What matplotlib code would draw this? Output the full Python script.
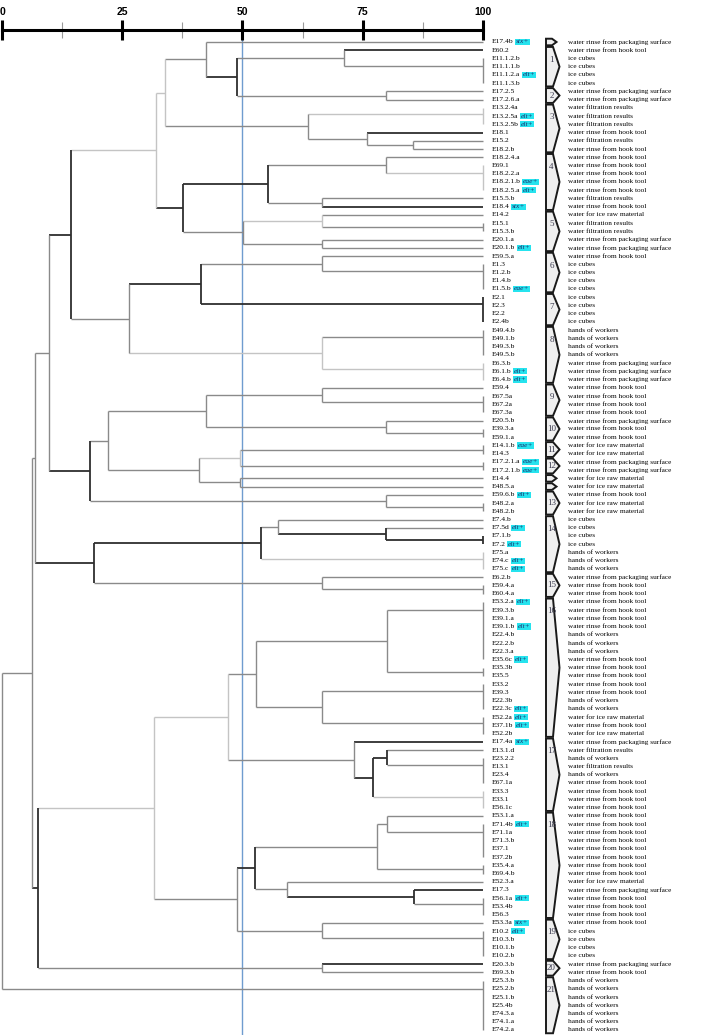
import matplotlib
matplotlib.use('Agg')
import matplotlib.pyplot as plt
from matplotlib.patches import Polygon

# leaf order, top to bottom
LEAVES = [
    'E17.4b', 'E60.2', 'E11.1.2.b', 'E11.1.1.b', 'E11.1.2.a', 'E11.1.3.b', 'E17.2.5', 'E17.2.6.a',
    'E13.2.4a', 'E13.2.5a', 'E13.2.5b', 'E18.1', 'E15.2', 'E18.2.b', 'E18.2.4.a', 'E69.1',
    'E18.2.2.a', 'E18.2.1.b', 'E18.2.5.a', 'E15.5.b', 'E18.4', 'E14.2', 'E15.1', 'E15.3.b',
    'E20.1.a', 'E20.1.b', 'E59.5.a', 'E1.3', 'E1.2.b', 'E1.4.b', 'E1.5.b', 'E2.1',
    'E2.3', 'E2.2', 'E2.4b', 'E49.4.b', 'E49.1.b', 'E49.3.b', 'E49.5.b', 'E6.3.b',
    'E6.1.b', 'E6.4.b', 'E59.4', 'E67.5a', 'E67.2a', 'E67.3a', 'E20.5.b', 'E39.3.a',
    'E59.1.a', 'E14.1.b', 'E14.3', 'E17.2.1.a', 'E17.2.1.b', 'E14.4', 'E48.5.a', 'E59.6.b',
    'E48.2.a', 'E48.2.b', 'E7.4.b', 'E7.5d', 'E7.1.b', 'E7.2', 'E75.a', 'E74.c',
    'E75.c', 'E6.2.b', 'E59.4.a', 'E60.4.a', 'E53.2.a', 'E39.3.b', 'E39.1.a', 'E39.1.b',
    'E22.4.b', 'E22.2.b', 'E22.3.a', 'E35.6c', 'E35.3b', 'E35.5', 'E33.2', 'E39.3',
    'E22.3b', 'E22.3c', 'E52.2a', 'E37.1b', 'E52.2b', 'E17.4a', 'E13.1.d', 'E23.2.2',
    'E13.1', 'E23.4', 'E67.1a', 'E33.3', 'E33.1', 'E56.1c', 'E53.1.a', 'E71.4b',
    'E71.1a', 'E71.3.b', 'E37.1', 'E37.2b', 'E35.4.a', 'E69.4.b', 'E52.3.a', 'E17.3',
    'E56.1a', 'E53.4b', 'E56.3', 'E53.3a', 'E10.2', 'E10.3.b', 'E10.1.b', 'E10.2.b',
    'E20.3.b', 'E69.3.b', 'E25.3.b', 'E25.2.b', 'E25.1.b', 'E25.4b', 'E74.3.a', 'E74.1.a',
    'E74.2.a',
]

SOURCE_NAMES = {
    'P': 'water rinse from packaging surface',
    'H': 'water rinse from hook tool',
    'I': 'ice cubes',
    'F': 'water filtration results',
    'R': 'water for ice raw material',
    'W': 'hands of workers',
}
SOURCE_CODES = ("PHIIIIPPFF" "FHFHHHHHHF" "HRFFPPHIII" "IIIIIWWWWP"
                "PPHHHHPHHR" "RPPRRHRRII" "IIWWWPHHHH" "HHWWWHHHHH"
                "WWRHRPFWFW" "HHHHHHHHHH" "HHRPHHHHII" "IIPHWWWWWWW")

# row number -> marker tag
TAGS = {1: 'stx+', 5: 'elt+', 10: 'elt+', 11: 'elt+', 18: 'eae+', 19: 'elt+', 21: 'stx+',
        26: 'elt+', 31: 'eae+', 41: 'elt+', 42: 'elt+', 50: 'eae+', 52: 'eae+', 53: 'eae+',
        56: 'elt+', 60: 'elt+', 62: 'elt+', 64: 'elt+', 65: 'elt+', 69: 'elt+', 72: 'elt+',
        76: 'elt+', 82: 'elt+', 83: 'elt+', 84: 'elt+', 86: 'stx+', 96: 'elt+', 105: 'elt+',
        108: 'stx+', 109: 'elt+'}

# runs of rows that are 100% similar
IDENTICAL = [(3, 6), (9, 11), (16, 19), (23, 24), (28, 31), (32, 35), (36, 39), (40, 42),
             (44, 46), (48, 49), (50, 51), (52, 53), (57, 58), (61, 62), (63, 65), (67, 68),
             (69, 76), (77, 78), (79, 82), (83, 85), (88, 91), (92, 94), (96, 100), (101, 102),
             (105, 107), (109, 112), (115, 121)]

# merges: (first row, first row of lower child, last row, similarity %)
MERGES = [
    (2, 3, 6, 71.2), (7, 8, 8, 79.8), (2, 7, 8, 48.9), (1, 2, 8, 42.5),
    (13, 14, 14, 85.5), (12, 13, 14, 75.9), (9, 12, 14, 63.6), (1, 9, 14, 33.8),
    (15, 16, 19, 79.8), (20, 21, 21, 66.5), (15, 20, 21, 55.2),
    (22, 23, 24, 66.5), (25, 26, 26, 66.5), (22, 25, 26, 50.2), (15, 22, 26, 37.6),
    (1, 15, 26, 32.1),
    (27, 28, 31, 66.5), (27, 32, 35, 41.4), (36, 40, 42, 66.5), (27, 36, 42, 26.3),
    (1, 27, 42, 14.3),
    (43, 44, 46, 66.5), (47, 48, 49, 79.8), (43, 47, 49, 42.4),
    (50, 52, 53, 49.5), (54, 55, 55, 49.5), (50, 54, 55, 41.0), (43, 50, 55, 22.0),
    (56, 57, 58, 79.8), (43, 56, 58, 18.2), (1, 43, 58, 9.7),
    (60, 61, 62, 79.8), (59, 60, 62, 57.3), (59, 63, 65, 53.8), (66, 67, 68, 66.5),
    (59, 66, 68, 19.2), (1, 59, 68, 6.9),
    (69, 77, 78, 80.0), (79, 83, 85, 66.5), (69, 79, 85, 52.9),
    (87, 88, 91, 80.0), (87, 92, 94, 77.2), (86, 87, 94, 73.2), (69, 86, 94, 46.9),
    (95, 96, 100, 80.0), (95, 101, 102, 77.9), (104, 105, 107, 85.7), (103, 104, 107, 59.2),
    (95, 103, 107, 52.5), (108, 109, 112, 66.6), (95, 108, 112, 48.9), (69, 95, 112, 31.7),
    (113, 114, 114, 66.6), (69, 113, 114, 7.4), (1, 69, 114, 6.3),
    (1, 115, 121, 0.0),
]

# line shade of some branches (default: mid grey)
DARK = {(2, 2), (2, 8), (1, 42), (15, 26), (27, 35), (32, 35), (21, 21), (59, 65), (59, 68),
        (60, 62), (61, 62), (69, 114), (86, 86), (87, 94), (87, 91), (104, 107), (104, 104),
        (95, 107), (113, 113), (43, 58), (15, 21), (12, 12)}
LIGHT = {(1, 26), (63, 65), (92, 94), (9, 11), (36, 42), (69, 112), (69, 94), (16, 19),
         (22, 24), (1, 14), (50, 53), (40, 42)}

# cluster brackets: (label, first row, last row)
GROUPS = [('', 1, 1), ('1', 2, 6), ('2', 7, 8), ('3', 9, 14), ('4', 15, 21), ('5', 22, 26),
          ('6', 27, 31), ('7', 32, 35), ('8', 36, 42), ('9', 43, 46), ('10', 47, 49),
          ('11', 50, 51), ('12', 52, 53), ('', 54, 54), ('', 55, 55), ('13', 56, 58),
          ('14', 59, 65), ('15', 66, 68), ('16', 69, 85), ('17', 86, 94), ('18', 95, 107),
          ('19', 108, 112), ('20', 113, 114), ('21', 115, 121)]

AXIS_TICKS = [0, 25, 50, 75, 100]
CUTOFF = 50

# page geometry (pixels)
W, H = 709, 1035
X0, PPU = 2.0, 4.81          # similarity 0 position, pixels per %
ROW0, ROWH = 42.0, 8.233     # first row centre, row height
RULER_Y = 30


def px_x(px):
    return (px - X0) / PPU


def px_row(py):
    return 1 + (py - ROW0) / ROWH


SHADES = {'dark': ('#2e2e2e', 1.3), 'mid': ('#8a8a8a', 1.0), 'light': ('#c4c4c4', 1.0)}


def shade(key):
    if key in DARK:
        return SHADES['dark']
    if key in LIGHT:
        return SHADES['light']
    return SHADES['mid']


fig = plt.figure(figsize=(W / 100, H / 100), dpi=100, facecolor='white')
ax = fig.add_axes([0, 0, 1, 1])
ax.set_xlim(px_x(0), px_x(W))
ax.set_ylim(px_row(H), px_row(0))
ax.axis('off')

merge_at = {(a, c): (b, s) for a, b, c, s in MERGES}
runs = set(IDENTICAL)


def run_y(a, c):
    return float(a) if a == c else (a + run_y(a + 1, c)) / 2


def node(a, c):
    """draw the subtree of rows a..c, return its (similarity, y)"""
    if a == c:
        return 100.0, float(a)
    if (a, c) in runs:
        col, lw = shade((a, c))
        ax.plot([100, 100], [a, c], color=col, lw=lw, solid_capstyle='butt')
        return 100.0, run_y(a, c)
    b, s = merge_at[(a, c)]
    xl, yl = node(a, b - 1)
    xr, yr = node(b, c)
    for key, xc, yc in (((a, b - 1), xl, yl), ((b, c), xr, yr)):
        col, lw = shade(key)
        ax.plot([s, xc], [yc, yc], color=col, lw=lw, solid_capstyle='butt')
    col, lw = shade((a, c))
    ax.plot([s, s], [yl, yr], color=col, lw=lw, solid_capstyle='butt')
    return s, (yl + yr) / 2


node(1, len(LEAVES))

# cut-off line
ax.plot([CUTOFF, CUTOFF], [px_row(RULER_Y), px_row(H)], color='#6f9ccf', lw=1.0, zorder=1)

# leaf labels, tags and sources
serif = 'Liberation Serif'
for i, name in enumerate(LEAVES, start=1):
    t = ax.text(px_x(492), i, name, fontsize=5.4, family=serif, va='center', ha='left')
    if i in TAGS:
        ax.annotate(TAGS[i], xy=(1, 0.5), xycoords=t, xytext=(1.6, 0), textcoords='offset points',
                    va='center', ha='left', fontsize=5.4, family=serif, style='italic',
                    color='#1b2a6b',
                    bbox=dict(boxstyle='square,pad=0.08', fc='#26e3ee', ec='none'))
    ax.text(px_x(568), i, SOURCE_NAMES[SOURCE_CODES[i - 1]], fontsize=5.2, family=serif,
            va='center', ha='left')

# cluster brackets
left, corner, tip = px_x(546), px_x(553), px_x(559.5)
for label, r0, r1 in GROUPS:
    top, bot = r0 - 0.4, r1 + 0.4
    c, t = (corner, tip) if r1 > r0 else (px_x(552), px_x(556.5))
    pts = [(left, top), (c, top), (t, (top + bot) / 2), (c, bot), (left, bot)]
    ax.add_patch(Polygon(pts, closed=True, fc='#efefef', ec='#1a1a1a', lw=1.4, zorder=3))
    if label:
        ly = top + min(1.55, (bot - top) / 2)
        ax.text(px_x(551.5), ly, label, fontsize=6.5, family=serif, color='#3b3b4f',
                ha='center', va='center', zorder=4)

# similarity ruler
rax = fig.add_axes([X0 / W, 1 - RULER_Y / H, 100 * PPU / W, 0.0001])
rax.set_xlim(0, 100)
rax.patch.set_visible(False)
for side in ('left', 'right', 'top'):
    rax.spines[side].set_visible(False)
rax.spines['bottom'].set_linewidth(2.2)
rax.set_yticks([])
rax.set_xticks(AXIS_TICKS)
rax.set_xticks([12.5, 37.5, 62.5, 87.5], minor=True)
rax.tick_params(which='major', direction='inout', length=14, width=2.2, color='black',
                labeltop=True, labelbottom=False, pad=2.5)
rax.tick_params(which='minor', direction='inout', length=11, width=0.8, color='#9a9a9a')
for lbl in rax.get_xticklabels():
    lbl.set_fontsize(7.5)
    lbl.set_fontweight('bold')
    lbl.set_family('Liberation Sans')

fig.savefig('out.png', dpi=100, facecolor='white')
